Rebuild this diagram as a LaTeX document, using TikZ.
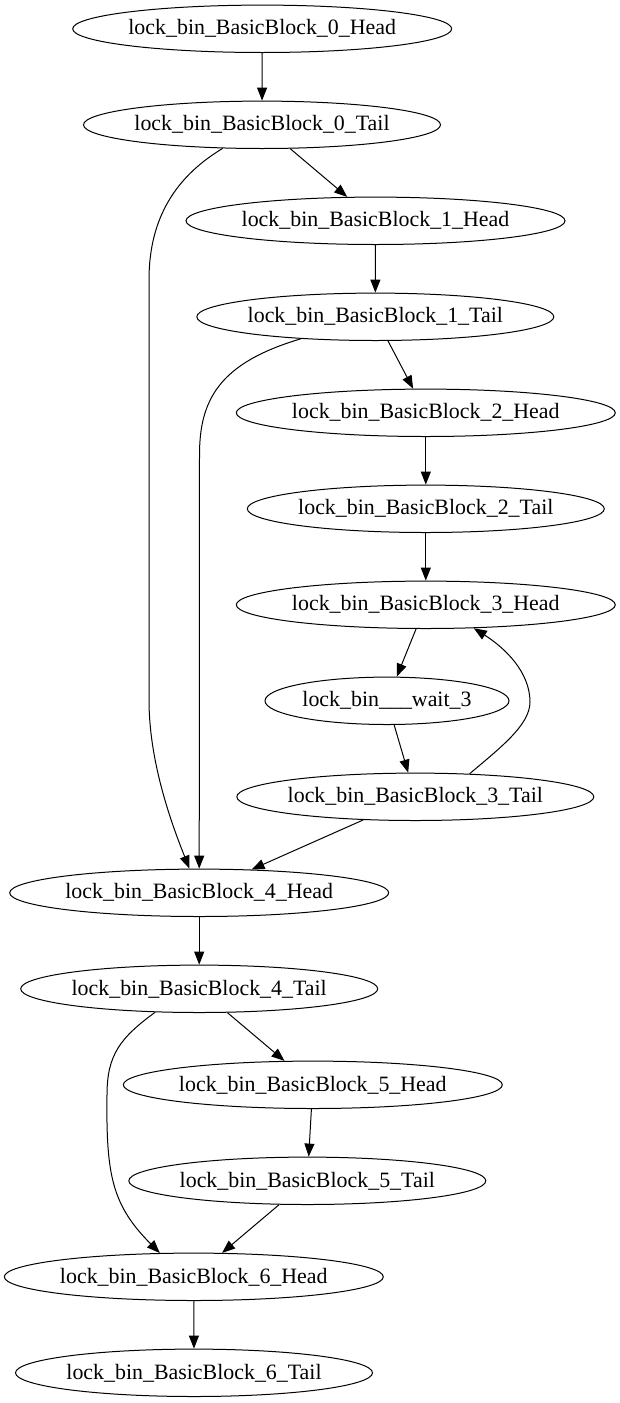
\documentclass[tikz,border=0pt]{standalone}
\usepackage{fontspec}
\setmainfont{Liberation Serif}
\usetikzlibrary{arrows.meta,shapes.geometric}
\tikzset{
  bb/.style={draw, ellipse, inner sep=0pt, minimum height=23.7pt, line width=0.5pt,
    font=\fontsize{10.95pt}{13pt}\selectfont},
  hd/.style={bb, minimum width=189.5pt},
  tl/.style={bb, inner xsep=-1.3pt, minimum width=178.5pt},
  wt/.style={bb, minimum width=122pt},
  ed/.style={draw, line width=0.5pt, -{Triangle[length=6.5pt,width=5pt]}}
}
\begin{document}
\begin{tikzpicture}[x=0.5pt,y=-0.5pt]
\fill[white] (0,0) rectangle (620,1403);
\useasboundingbox (0,0) rectangle (620,1403);
\node[hd] (n0H) at (262.2,28.8) {lock\_bin\_BasicBlock\_0\_Head};
\node[tl] (n0T) at (262,124.8) {lock\_bin\_BasicBlock\_0\_Tail};
\node[hd] (n1H) at (375.5,220.8) {lock\_bin\_BasicBlock\_1\_Head};
\node[tl] (n1T) at (375.3,316.8) {lock\_bin\_BasicBlock\_1\_Tail};
\node[hd] (n2H) at (425.8,412.8) {lock\_bin\_BasicBlock\_2\_Head};
\node[tl] (n2T) at (425.8,508.8) {lock\_bin\_BasicBlock\_2\_Tail};
\node[hd] (n3H) at (425.8,604.8) {lock\_bin\_BasicBlock\_3\_Head};
\node[wt] (nw) at (387,700.8) {lock\_bin\_\_\_wait\_3};
\node[tl] (n3T) at (415.3,796.8) {lock\_bin\_BasicBlock\_3\_Tail};
\node[hd] (n4H) at (199.2,892.8) {lock\_bin\_BasicBlock\_4\_Head};
\node[tl] (n4T) at (199.2,988.8) {lock\_bin\_BasicBlock\_4\_Tail};
\node[hd] (n5H) at (312.8,1084.8) {lock\_bin\_BasicBlock\_5\_Head};
\node[tl] (n5T) at (307.3,1180.8) {lock\_bin\_BasicBlock\_5\_Tail};
\node[hd] (n6H) at (193.8,1276.8) {lock\_bin\_BasicBlock\_6\_Head};
\node[tl] (n6T) at (194,1372.8) {lock\_bin\_BasicBlock\_6\_Tail};

\path[ed] (n0H) -- (n0T);
\path[ed] (n0T) -- (n1H);
\path[ed] (n0T) .. controls (170,180) and (149,225) .. (149,280) -- (149,700)
  .. controls (149,760) and (170,820) .. (n4H);
\path[ed] (n1H) -- (n1T);
\path[ed] (n1T) -- (n2H);
\path[ed] (n1T) .. controls (219,363) and (199.5,400) .. (199.5,455) -- (n4H);
\path[ed] (n2H) -- (n2T);
\path[ed] (n2T) -- (n3H);
\path[ed] (n3H) -- (nw);
\path[ed] (nw) -- (n3T);
\path[ed] (n3T.23) .. controls (500,748) and (530,725) .. (530,702)
  .. controls (530,672) and (505,648) .. (n3H.334);
\path[ed] (n3T) -- (n4H);
\path[ed] (n4H) -- (n4T);
\path[ed] (n4T) -- (n5H);
\path[ed] (n4T.208) .. controls (120,1038) and (107,1055) .. (107,1095)
  .. controls (106,1175) and (112,1205) .. (n6H.145);
\path[ed] (n5H) -- (n5T);
\path[ed] (n5T) -- (n6H);
\path[ed] (n6H) -- (n6T);
\end{tikzpicture}
\end{document}
